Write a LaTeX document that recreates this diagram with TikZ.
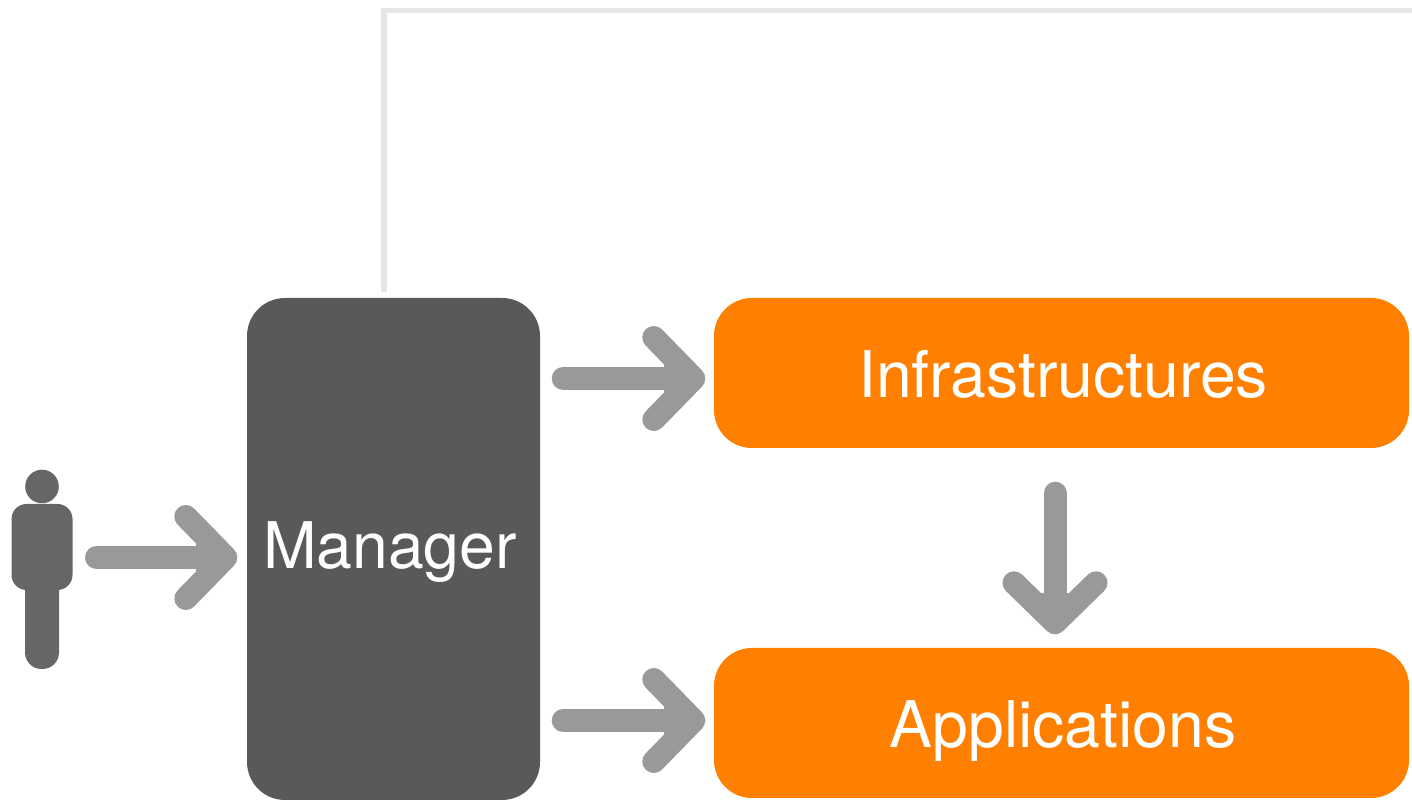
\documentclass[tikz,border=0pt]{standalone}
\usepackage{xcolor}
\usepackage{fontspec}
\usepackage{tikz}
\usetikzlibrary{arrows, arrows.meta}
\setmainfont{TeX Gyre Heros}
\definecolor{mangray}{HTML}{595959}
\definecolor{boxorange}{HTML}{FF8000}
\definecolor{flowgray}{HTML}{999999}
\definecolor{persongray}{HTML}{666666}
\definecolor{linegray}{HTML}{E6E6E6}
\tikzset{box/.style = {rectangle, rounded corners=.38cm, inner sep=0pt, text=white, text height=.50cm, text depth=0pt, font=\fontsize{18.3}{20}\selectfont}}
\tikzset{flow/.style = {draw=flowgray, line width=.23cm, line cap=round, -{Rectangle[length=.21cm, width=.30cm, sep=-.43cm] Straight Barb[round, length=.40cm, width=.82cm]}}}

\begin{document}
\begin{tikzpicture}
\useasboundingbox (0,0) rectangle (14.12,8);

\node[box, fill=mangray, minimum width=2.93cm, minimum height=5.02cm, text depth=.1cm] (manager) at (3.935,2.51) {\hspace*{-.07cm}Manager};
\node[box, fill=boxorange, minimum width=6.95cm, minimum height=1.5cm] (infra) at (10.615,4.27) {\hspace*{.03cm}Infrastructures};
\node[box, fill=boxorange, minimum width=6.95cm, minimum height=1.5cm] (apps) at (10.615,.77) {\hspace*{.03cm}Applications};

% person
\fill[persongray] (.42,3.135) circle (.168);
\fill[persongray, rounded corners=.15cm] (.115,2.1) rectangle (.725,2.96);
\fill[persongray, rounded corners=.165cm] (.25,1.31) rectangle (.59,2.3);
\coordinate (person) at (.73,2.425);

\draw[flow, shorten <=.235cm, shorten >=.09cm] (person) -- (person -| manager.west);
\draw[flow, shorten <=.225cm, shorten >=.08cm] ([yshift=-.055cm]infra.west -| manager.east) -- ([yshift=-.055cm]infra.west);
\draw[flow, shorten <=.225cm, shorten >=.08cm] ([yshift=.025cm]apps.west -| manager.east) -- ([yshift=.025cm]apps.west);
\draw[flow, shorten <=.445cm, shorten >=.13cm] ([xshift=-.065cm]infra.south) -- ([xshift=-.065cm]apps.north);

% feedback line, runs off the page
\coordinate (corner) at (3.84,7.895);
\coordinate (edge) at (14.12,7.895);
\draw[linegray, line width=.055cm, shorten <=.05cm] (manager.north -| corner) -- (corner) -- (edge);
\end{tikzpicture}
\end{document}
